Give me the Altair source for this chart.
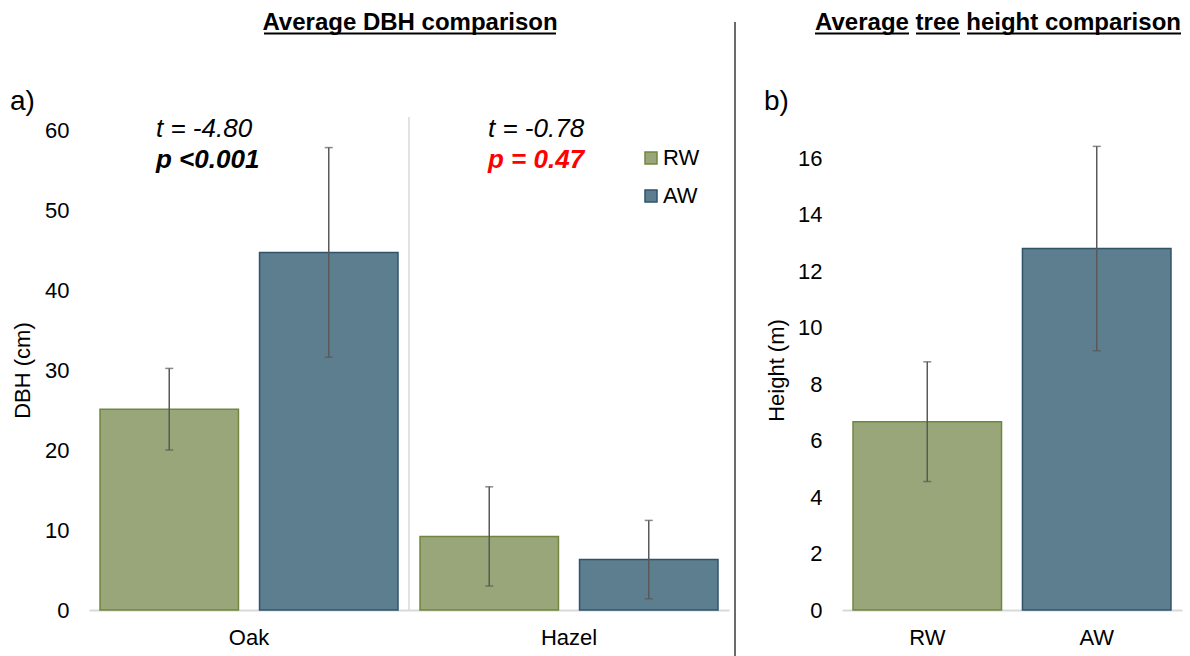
import altair as alt
import pandas as pd

# ---------------- data ----------------
species = ["Oak", "Oak", "Hazel", "Hazel"]
dbh_groups = ["RW", "AW", "RW", "AW"]
dbh_mean = [25.1, 44.7, 9.2, 6.3]
dbh_err = [5.1, 13.1, 6.2, 4.9]
dbh_ticks = [0, 10, 20, 30, 40, 50, 60]

height_groups = ["RW", "AW"]
height_mean = [6.67, 12.8]
height_err = [2.12, 3.62]
height_ticks = [0, 2, 4, 6, 8, 10, 12, 14, 16]

group_order = ["RW", "AW"]
species_order = ["Oak", "Hazel"]

FONT = "Liberation Sans"
FILL = ["#98A679", "#5C7E8E"]
EDGE = ["#71873F", "#2F5469"]
ERR = "#595959"

W1, W2, H = 640, 340, 480

dbh_df = pd.DataFrame({"species": species, "group": dbh_groups,
                       "mean": dbh_mean, "err": dbh_err})
h_df = pd.DataFrame({"group": height_groups, "mean": height_mean, "err": height_err})
dummy = pd.DataFrame({"k": [0]})

color_scale = alt.Scale(domain=group_order, range=FILL)
stroke_scale = alt.Scale(domain=group_order, range=EDGE)

legend_def = alt.Legend(orient="none", legendX=551, legendY=17, title=None,
                        symbolType="square", symbolSize=144, symbolStrokeWidth=1.5,
                        labelFontSize=22, labelFont=FONT, labelColor="#000000",
                        rowPadding=16, labelOffset=1, padding=0)


def y_axis(title, values, tx):
    return alt.Axis(values=values, title=title, domain=False, ticks=False, grid=False,
                    labelFontSize=22, labelFont=FONT, labelColor="#000000", labelPadding=20,
                    titleFontSize=22, titleFont=FONT, titleFontWeight="normal",
                    titleColor="#000000", titleX=tx, titleY=H / 2, titleAngle=270,
                    titleAlign="center", titleBaseline="middle")


x_axis = alt.Axis(title=None, labelAngle=0, ticks=False, domainColor="#D9D9D9",
                  domainWidth=2, labelFontSize=22, labelFont=FONT, labelColor="#000000",
                  labelPadding=17)


def txt(text, x, y, size, align="left", baseline="alphabetic", **kw):
    return alt.Chart(dummy).mark_text(text=text, fontSize=size, font=FONT, align=align,
                                      baseline=baseline, **kw).encode(
        x=alt.value(x), y=alt.value(y))


def hrule(x, x2, y, color="black", w=2):
    return alt.Chart(dummy).mark_rule(color=color, strokeWidth=w).encode(
        x=alt.value(x), x2=alt.value(x2), y=alt.value(y))


def vrule(x, y, y2, color, w):
    return alt.Chart(dummy).mark_rule(color=color, strokeWidth=w).encode(
        x=alt.value(x), y=alt.value(y), y2=alt.value(y2))


# ---------------- left panel: DBH ----------------
yscale1 = alt.Scale(domain=[0, 60], nice=False)
yax1 = y_axis("DBH (cm)", dbh_ticks, -67)
x1 = alt.X("species:N", sort=species_order,
           scale=alt.Scale(paddingInner=0, paddingOuter=0), axis=x_axis)
xo1 = alt.XOffset("group:N", sort=group_order,
                  scale=alt.Scale(paddingInner=0.132, paddingOuter=0.069))

base1 = alt.Chart(dbh_df).transform_calculate(
    lo="datum.mean - datum.err", hi="datum.mean + datum.err")

bars1 = base1.mark_bar(strokeWidth=1.5).encode(
    x=x1, xOffset=xo1,
    y=alt.Y("mean:Q", scale=yscale1, axis=yax1),
    color=alt.Color("group:N", scale=color_scale, legend=legend_def),
    stroke=alt.Stroke("group:N", scale=stroke_scale, legend=legend_def),
)
err1 = base1.mark_rule(color=ERR, strokeWidth=1.5).encode(
    x=x1, xOffset=xo1,
    y=alt.Y("lo:Q", scale=yscale1, axis=yax1), y2="hi:Q")
caplo1 = base1.mark_tick(color=ERR, thickness=1.5, size=8).encode(
    x=x1, xOffset=xo1, y=alt.Y("lo:Q", scale=yscale1, axis=yax1))
caphi1 = base1.mark_tick(color=ERR, thickness=1.5, size=8).encode(
    x=x1, xOffset=xo1, y=alt.Y("hi:Q", scale=yscale1, axis=yax1))

left = alt.layer(
    alt.Chart(dummy).mark_rect(opacity=0).encode(
        x=alt.value(-89), x2=alt.value(1190 - 89), y=alt.value(-130), y2=alt.value(656 - 130)),
    vrule(W1 / 2, -13, H, "#D9D9D9", 1.5),
    bars1, err1, caplo1, caphi1,
    txt("Average DBH comparison", 321, -100, 24, align="center", fontWeight="bold"),
    hrule(175, 467, -96.5),
    txt("a)", -79, -20, 28),
    txt("t = -4.80", 67, 7, 26, fontStyle="italic", color="#000000"),
    txt("p <0.001", 67, 38, 26, fontStyle="italic", fontWeight="bold", color="#000000"),
    txt("t = -0.78", 399, 7, 26, fontStyle="italic", color="#000000"),
    txt("p = 0.47", 399, 38, 26, fontStyle="italic", fontWeight="bold", color="#FF0000"),
    vrule(646, -108, 526, "#3A3A3A", 1.5),
).properties(width=W1, height=H)

# ---------------- right panel: height ----------------
yscale2 = alt.Scale(domain=[0, 17], nice=False)
yax2 = y_axis("Height (m)", height_ticks, -66)
x2 = alt.X("group:N", sort=group_order,
           scale=alt.Scale(paddingInner=0.1235, paddingOuter=0.065), axis=x_axis)

base2 = alt.Chart(h_df).transform_calculate(
    lo="datum.mean - datum.err", hi="datum.mean + datum.err")

bars2 = base2.mark_bar(strokeWidth=1.5).encode(
    x=x2,
    y=alt.Y("mean:Q", scale=yscale2, axis=yax2),
    color=alt.Color("group:N", scale=color_scale, legend=None),
    stroke=alt.Stroke("group:N", scale=stroke_scale, legend=None),
)
err2 = base2.mark_rule(color=ERR, strokeWidth=1.5).encode(
    x=x2, y=alt.Y("lo:Q", scale=yscale2, axis=yax2), y2="hi:Q")
caplo2 = base2.mark_tick(color=ERR, thickness=1.5, size=8).encode(
    x=x2, y=alt.Y("lo:Q", scale=yscale2, axis=yax2))
caphi2 = base2.mark_tick(color=ERR, thickness=1.5, size=8).encode(
    x=x2, y=alt.Y("hi:Q", scale=yscale2, axis=yax2))

right = alt.layer(
    bars2, err2, caplo2, caphi2,
    txt("Average tree height comparison", 156, -100, 24, align="center", fontWeight="bold"),
    hrule(-27, 67, -96.5),
    hrule(74, 118, -96.5),
    hrule(125, 339, -96.5),
    txt("b)", -78, -20, 28),
).properties(width=W2, height=H)

chart = alt.hconcat(left, right, spacing=113, bounds="flush").resolve_scale(
    color="independent", stroke="independent"
).resolve_legend(
    color="independent", stroke="independent"
).properties(padding=0, background="white").configure(font=FONT).configure_view(stroke=None)

chart.save("out.html", embed_options={"renderer": "svg", "actions": False})
